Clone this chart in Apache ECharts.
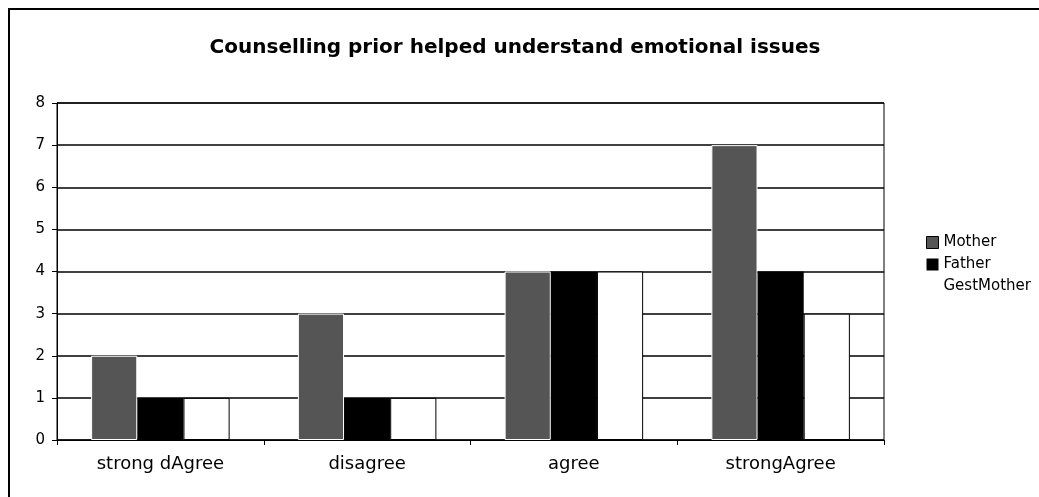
<!DOCTYPE html>
<html>
<head>
<meta charset="utf-8">
<script src="https://cdn.jsdelivr.net/npm/echarts@6/dist/echarts.min.js"></script>
<style>
html,body{margin:0;padding:0;background:#fff;}
#c{width:1039px;height:497px;}
</style>
</head>
<body>
<div id="c"></div>
<script>
const categories = ['strong dAgree', 'disagree', 'agree', 'strongAgree'];
const mother = [2, 3, 4, 7];
const father = [1, 1, 4, 4];
const gestMother = [1, 1, 4, 3];
const seriesNames = ['Mother', 'Father', 'GestMother'];

const chart = echarts.init(document.getElementById('c'), null, {renderer: 'canvas'});
const font = 'Verdana, "DejaVu Sans", sans-serif';
chart.setOption({
  backgroundColor: '#fff',
  animation: false,
  title: {
    text: 'Counselling prior helped understand emotional issues',
    left: 510, top: 33, textAlign: 'center',
    textStyle: {fontFamily: font, fontWeight: 'bold', fontSize: 20, color: '#000'}
  },
  graphic: [{
    type: 'rect', shape: {x: 9, y: 9, width: 1200, height: 600},
    style: {fill: 'none', stroke: '#000', lineWidth: 2}, z: -1
  }],
  legend: {
    orient: 'vertical', left: 921, top: 230, itemWidth: 12, itemHeight: 12, itemGap: 7,
    textStyle: {fontFamily: font, fontSize: 15, color: '#000'},
    data: [
      {name: seriesNames[0], icon: 'rect', itemStyle: {color: '#555555', borderColor: '#000', borderWidth: 1}},
      {name: seriesNames[1], icon: 'rect'},
      {name: seriesNames[2], icon: 'rect', itemStyle: {color: '#fff', borderWidth: 0}}
    ]
  },
  grid: {left: 57, right: 155, top: 103, bottom: 57, show: true, borderColor: '#000', borderWidth: 1, backgroundColor: '#fff'},
  xAxis: {
    type: 'category', data: categories,
    axisLine: {lineStyle: {color: '#000', width: 1}},
    axisTick: {show: true, length: 5, lineStyle: {color: '#000'}},
    axisLabel: {fontFamily: font, fontSize: 18, color: '#000', margin: 15}
  },
  yAxis: {
    type: 'value', min: 0, max: 8, interval: 1,
    axisLine: {show: true, lineStyle: {color: '#000'}},
    axisTick: {show: true, length: 5, lineStyle: {color: '#000'}},
    axisLabel: {fontFamily: font, fontSize: 15, color: '#000', margin: 12},
    splitLine: {lineStyle: {color: '#000', width: 1.5}}
  },
  series: [
    {name: seriesNames[0], type: 'bar', data: mother, barGap: '0%', barCategoryGap: '33%',
     itemStyle: {color: '#555555', borderColor: '#fff', borderWidth: 1}},
    {name: seriesNames[1], type: 'bar', data: father,
     itemStyle: {color: '#000000'}},
    {name: seriesNames[2], type: 'bar', data: gestMother,
     itemStyle: {color: '#ffffff', borderColor: '#000', borderWidth: 1}}
  ]
});
</script>
</body>
</html>
